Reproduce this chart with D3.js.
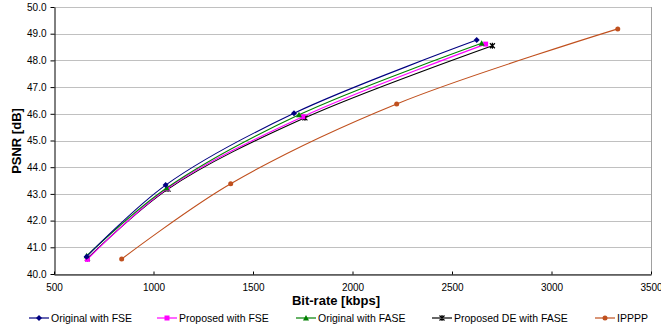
<!DOCTYPE html>
<html>
<head>
<meta charset="utf-8">
<script src="https://cdn.jsdelivr.net/npm/d3@7"></script>
<style>
  body { margin: 0; background: #fff; }
  svg { font-family: "Liberation Sans", Arial, sans-serif; display: block; }
</style>
</head>
<body>
<script>
var width = 661,
  height = 325;

var margin = {top: 7, left: 54, right: 10, bottom: 51};

var seriesNames = ["Original with FSE", "Proposed with FSE", "Original with FASE", "Proposed DE with FASE", "IPPPP"];
var seriesColors = ["#000080", "#ff00ff", "#008000", "#000000", "#c0501e"];
var seriesMarkers = ["diamond", "square", "triangle", "star", "circle"];

var fseOrigX = [664, 1061, 1706, 2624];
var fseOrigY = [40.65, 43.33, 46.02, 48.76];
var fsePropX = [668, 1070, 1750, 2669];
var fsePropY = [40.55, 43.20, 45.89, 48.61];
var faseOrigX = [664, 1066, 1731, 2649];
var faseOrigY = [40.68, 43.22, 45.96, 48.64];
var fasePropX = [668, 1073, 1761, 2703];
var fasePropY = [40.58, 43.18, 45.85, 48.55];
var ippppX = [840, 1388, 2222, 3333];
var ippppY = [40.56, 43.38, 46.37, 49.18];

var xTicks = [500, 1000, 1500, 2000, 2500, 3000, 3500];
var yTicks = [40, 41, 42, 43, 44, 45, 46, 47, 48, 49, 50];

var seriesX = [fseOrigX, fsePropX, faseOrigX, fasePropX, ippppX];
var seriesY = [fseOrigY, fsePropY, faseOrigY, fasePropY, ippppY];

var series = seriesNames.map(function(name, i) {
  return {
    name: name,
    color: seriesColors[i],
    marker: seriesMarkers[i],
    values: seriesX[i].map(function(x, j) { return {x: x, y: seriesY[i][j]}; })
  };
});

var x = d3.scaleLinear()
  .domain([500, 3500])
  .range([margin.left, 651]);

var y = d3.scaleLinear()
  .domain([40, 50])
  .range([274, margin.top]);

var svg = d3.select("body").append("svg")
  .attr("width", width)
  .attr("height", height);

// gridlines
svg.append("g")
  .selectAll("line")
  .data(yTicks)
  .enter().append("line")
    .attr("x1", x(500))
    .attr("x2", x(3500))
    .attr("y1", function(d) { return Math.round(y(d)) + 0.5; })
    .attr("y2", function(d) { return Math.round(y(d)) + 0.5; })
    .attr("stroke", "#c0c0c0")
    .attr("stroke-width", 1);

// right border
svg.append("line")
  .attr("x1", x(3500) + 0.5)
  .attr("x2", x(3500) + 0.5)
  .attr("y1", y(50))
  .attr("y2", y(40))
  .attr("stroke", "#a0a0a0");

var xAxis = d3.axisBottom(x)
  .tickValues(xTicks)
  .tickSizeInner(-3)
  .tickSizeOuter(0)
  .tickPadding(9)
  .tickFormat(d3.format("d"));

var yAxis = d3.axisLeft(y)
  .tickValues(yTicks)
  .tickSizeInner(4)
  .tickSizeOuter(0)
  .tickPadding(4)
  .tickFormat(d3.format(".1f"));

var gx = svg.append("g")
  .attr("transform", "translate(0," + (Math.round(y(40)) + 0.5) + ")")
  .call(xAxis);

var gy = svg.append("g")
  .attr("transform", "translate(" + (Math.round(x(500)) + 0.5) + ",0)")
  .call(yAxis);

[gx, gy].forEach(function(g) {
  g.selectAll("path, line").attr("stroke", "#000");
  g.selectAll("text").attr("font-size", "10px").attr("fill", "#000")
    .attr("font-family", "Liberation Sans, Arial, sans-serif");
});
gx.selectAll(".tick line").attr("y1", 0).attr("y2", -3);

svg.append("text")
  .attr("x", 336)
  .attr("y", 305)
  .attr("text-anchor", "middle")
  .attr("font-size", "13px")
  .attr("font-weight", "bold")
  .text("Bit-rate [kbps]");

svg.append("text")
  .attr("transform", "translate(21,141) rotate(-90)")
  .attr("text-anchor", "middle")
  .attr("font-size", "13px")
  .attr("font-weight", "bold")
  .text("PSNR [dB]");

var line = d3.line()
  .x(function(d) { return x(d.x); })
  .y(function(d) { return y(d.y); })
  .curve(d3.curveCatmullRom.alpha(0.5));

function drawMarker(g, type, color, cx, cy) {
  if (type === "diamond") {
    g.append("path").attr("d", "M" + cx + "," + (cy - 3) + "L" + (cx + 3) + "," + cy + "L" + cx + "," + (cy + 3) + "L" + (cx - 3) + "," + cy + "Z")
      .attr("fill", color);
  } else if (type === "square") {
    g.append("rect").attr("x", cx - 2.5).attr("y", cy - 2.5).attr("width", 5).attr("height", 5).attr("fill", color);
  } else if (type === "triangle") {
    g.append("path").attr("d", "M" + cx + "," + (cy - 3) + "L" + (cx + 3) + "," + (cy + 2.5) + "L" + (cx - 3) + "," + (cy + 2.5) + "Z")
      .attr("fill", color);
  } else if (type === "star") {
    g.append("path").attr("d", "M" + (cx - 2.5) + "," + (cy - 2.5) + "L" + (cx + 2.5) + "," + (cy + 2.5) +
      "M" + (cx + 2.5) + "," + (cy - 2.5) + "L" + (cx - 2.5) + "," + (cy + 2.5) +
      "M" + cx + "," + (cy - 3) + "L" + cx + "," + (cy + 3))
      .attr("stroke", color).attr("stroke-width", 1.2).attr("fill", "none");
  } else {
    g.append("circle").attr("cx", cx).attr("cy", cy).attr("r", 2.5).attr("fill", color);
  }
}

// draw series, IPPPP first underneath
var order = [4, 3, 1, 2, 0];
order.forEach(function(i) {
  var s = series[i];
  var g = svg.append("g");
  g.append("path")
    .datum(s.values)
    .attr("d", line)
    .attr("fill", "none")
    .attr("stroke", s.color)
    .attr("stroke-width", 1.1);
  s.values.forEach(function(d) {
    drawMarker(g, s.marker, s.color, x(d.x), y(d.y));
  });
});

// legend
var legendX = [29, 157, 296, 432, 595];
var legend = svg.append("g");
series.forEach(function(s, i) {
  var lg = legend.append("g").attr("transform", "translate(" + legendX[i] + ",318)");
  lg.append("line").attr("x1", 0).attr("x2", 20).attr("y1", 0).attr("y2", 0)
    .attr("stroke", s.color).attr("stroke-width", 1.2);
  drawMarker(lg, s.marker, s.color, 10, 0);
  lg.append("text")
    .attr("x", 22)
    .attr("y", 0)
    .attr("dy", "0.35em")
    .attr("font-size", "10.5px")
    .text(s.name);
});
</script>
</body>
</html>
